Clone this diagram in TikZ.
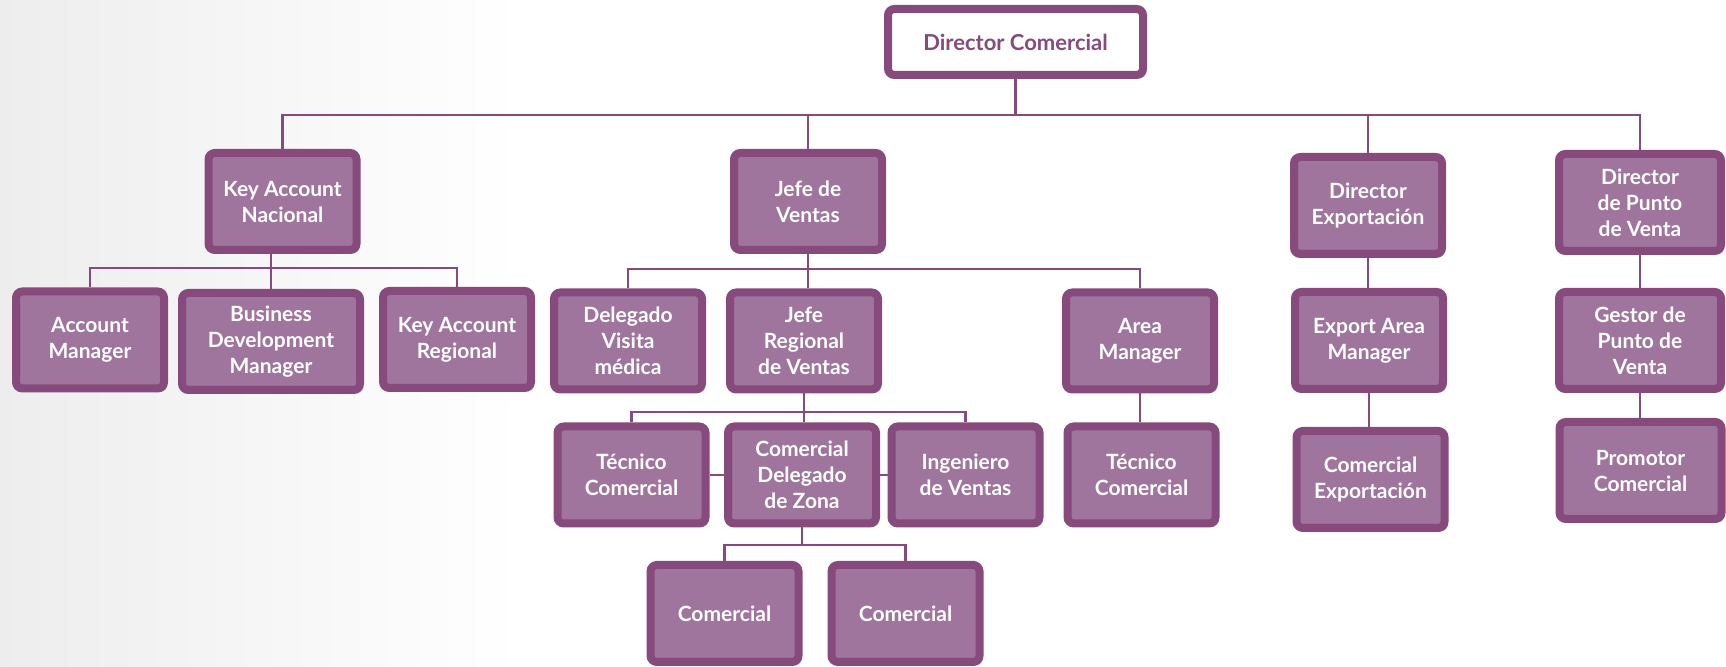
\documentclass[tikz,border=0pt]{standalone}
\usepackage{fontspec}
\setmainfont{Lato}
\usetikzlibrary{positioning, shadows, backgrounds}

\definecolor{orgline}{RGB}{134,74,124}
\definecolor{orgfill}{RGB}{159,116,157}

\begin{document}
\begin{tikzpicture}[x=0.5pt, y=-0.5pt,
        box/.style={draw=orgline, fill=orgfill, line width=4pt, rounded corners=3.2pt,
            text=white, font=\bfseries\fontsize{10.5}{13}\selectfont, align=center,
            minimum width=74pt, minimum height=48.5pt, inner sep=0pt,
            drop shadow={shadow xshift=1.6pt, shadow yshift=-1.6pt, opacity=0.3, fill=black!70}},
        widebox/.style={box, minimum width=81pt},
        topbox/.style={box, fill=white, text=orgline, font=\bfseries\fontsize{11}{13}\selectfont,
            minimum width=127.5pt, minimum height=33pt},
        link/.style={draw=orgline, line width=1.2pt}]
    \useasboundingbox (0,0) rectangle (1726,667);

    % top level
    \node[topbox] (dc) at (1015.5,42) {Director Comercial};

    % second level
    \node[box] (kan) at (282.5,201.5) {Key Account\\Nacional};
    \node[box] (jdv) at (808,201.5) {Jefe de\\Ventas};
    \node[box] (de) at (1368,205.5) {Director\\Exportación};
    \node[widebox] (dpv) at (1640,202.5) {Director\\de Punto\\de Venta};

    % third level
    \node[box] (am) at (90,340) {Account\\Manager};
    \node[box, minimum width=89pt] (bdm) at (271,341.5) {Business\\Development\\Manager};
    \node[box] (kar) at (457,339.5) {Key Account\\Regional};
    \node[box] (dvm) at (628,341) {Delegado\\Visita\\médica};
    \node[box] (jrv) at (804,341) {Jefe\\Regional\\de Ventas};
    \node[box] (arm) at (1140,341) {Area\\Manager};
    \node[box] (eam) at (1369,340.5) {Export Area\\Manager};
    \node[widebox] (gpv) at (1640,340.5) {Gestor de\\Punto de\\Venta};

    % fourth level
    \node[box] (tc) at (631.5,475) {Técnico\\Comercial};
    \node[box] (cdz) at (802,475) {Comercial\\Delegado\\de Zona};
    \node[box] (idv) at (965.5,475) {Ingeniero\\de Ventas};
    \node[box] (tcb) at (1141.5,475) {Técnico\\Comercial};
    \node[box] (ce) at (1370.5,479.5) {Comercial\\Exportación};
    \node[widebox] (pc) at (1640.5,470.5) {Promotor\\Comercial};

    % fifth level
    \node[box] (ca) at (724.5,613.5) {Comercial};
    \node[box] (cb) at (905.5,613.5) {Comercial};

    % bar heights
    \coordinate (topbar) at (0,115);
    \coordinate (kanbar) at (0,268);
    \coordinate (jdvbar) at (0,269);
    \coordinate (jrvbar) at (0,412);
    \coordinate (cdzbar) at (0,545);

    \begin{scope}[on background layer]
        \shade[left color=black!7, right color=white] (0,0) rectangle (520,667);

        \draw[link] (kan.north) |- (dpv.north |- topbar) -- (dpv.north);
        \draw[link] (dc.south) -- (dc.south |- topbar);
        \draw[link] (jdv.north) -- (jdv.north |- topbar);
        \draw[link] (de.north) -- (de.north |- topbar);

        \draw[link] (am.north) |- (kar.north |- kanbar) -- (kar.north);
        \draw[link] (bdm.north) -- (bdm.north |- kan.south);

        \draw[link] (dvm.north) |- (arm.north |- jdvbar) -- (arm.north);
        \draw[link] (jdv.south) -- (jdv.south |- jrv.north);

        \draw[link] (tc.north) |- (idv.north |- jrvbar) -- (idv.north);
        \draw[link] (jrv.south) -- (jrv.south |- cdz.north);
        \draw[link] (tc.east) -- (cdz.west);
        \draw[link] (cdz.east) -- (idv.west);

        \draw[link] (ca.north) |- (cb.north |- cdzbar) -- (cb.north);
        \draw[link] (cdz.south) -- (cdz.south |- cdzbar);

        \draw[link] (arm.south) -- (arm.south |- tcb.north);
        \draw[link] (de.south) -- (de.south |- eam.north);
        \draw[link] (eam.south) -- (eam.south |- ce.north);
        \draw[link] (dpv.south) -- (dpv.south |- gpv.north);
        \draw[link] (gpv.south) -- (gpv.south |- pc.north);
    \end{scope}
\end{tikzpicture}
\end{document}
